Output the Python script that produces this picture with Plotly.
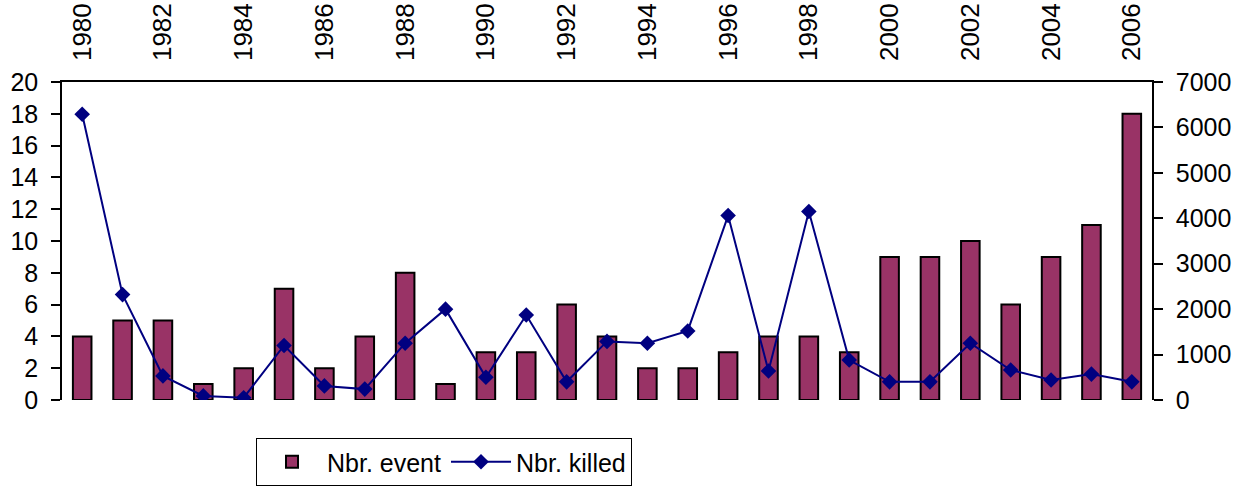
import plotly.graph_objects as go

years = list(range(1980, 2007))
events = [4, 5, 5, 1, 2, 7, 2, 4, 8, 1, 3, 3, 6, 4, 2, 2, 3, 4, 4, 3, 9, 9, 10, 6, 9, 11, 18]
killed = [6290, 2320, 530, 90, 50, 1200, 310, 240, 1250, 2000, 500, 1870, 400, 1290,
          1250, 1520, 4060, 640, 4150, 880, 400, 400, 1250, 660, 440, 570, 400]
label_years = [y for y in years if y % 2 == 0]
left_ticks = list(range(0, 21, 2))
right_ticks = list(range(0, 7001, 1000))

FONT = "Liberation Sans, Arial, sans-serif"
XFS = 26
YFS = 25
W, H = 1234, 487
xr = [years[0] - 0.5, years[-1] + 0.5]
bounds = [y - 0.5 for y in years] + [years[-1] + 0.5]

fig = go.Figure()
fig.add_trace(go.Bar(
    x=years, y=events, name="Nbr. event", xaxis="x", yaxis="y",
    marker=dict(color="#993366", line=dict(color="black", width=2)),
    width=0.46,
))
fig.add_trace(go.Scatter(
    x=years, y=killed, name="Nbr. killed", xaxis="x", yaxis="y2",
    mode="lines+markers",
    line=dict(color="#000080", width=2),
    marker=dict(symbol="diamond", size=12, color="#000080"),
))

common_x = dict(range=xr, showgrid=False, zeroline=False, fixedrange=True, automargin=False)
fig.update_layout(
    width=W, height=H,
    margin=dict(l=62, r=82, t=82, b=87, autoexpand=False),
    paper_bgcolor="white", plot_bgcolor="white",
    font=dict(family=FONT, size=YFS, color="black"),
    showlegend=True,
    legend=dict(
        orientation="h", xref="container", yref="container",
        x=256 / W, y=1 - 438 / H, xanchor="left", yanchor="top",
        bordercolor="black", borderwidth=1, font=dict(size=YFS),
        itemwidth=60, traceorder="normal",
    ),
    xaxis=dict(
        **common_x, side="top", anchor="y",
        tickmode="array", tickvals=label_years, ticktext=[str(y) for y in label_years],
        tickangle=-90, ticks="", showline=True, linecolor="black", linewidth=1.5,
        tickfont=dict(size=XFS), ticklabelstandoff=14,
    ),
    xaxis2=dict(
        **common_x, side="top", anchor="y", overlaying="x",
        tickmode="array", tickvals=bounds, showticklabels=False,
        ticks="outside", ticklen=9, tickwidth=1.5, tickcolor="black", showline=False,
    ),
    xaxis3=dict(
        **common_x, side="top", anchor="y", overlaying="x",
        tickmode="array", tickvals=bounds, showticklabels=False,
        ticks="inside", ticklen=8, tickwidth=1.5, tickcolor="#555", showline=False,
    ),
    xaxis4=dict(
        **common_x, side="bottom", anchor="y", overlaying="x",
        showticklabels=False, ticks="", showline=True, linecolor="#808080", linewidth=2,
    ),
    yaxis=dict(
        range=[0, 20], tickmode="array", tickvals=left_ticks,
        showgrid=False, zeroline=False, showline=True, linecolor="black", linewidth=1.5,
        ticks="outside", ticklen=9, tickwidth=1.5, tickcolor="black",
        tickfont=dict(size=YFS), fixedrange=True, anchor="x", automargin=False,
        ticklabelstandoff=8,
    ),
    yaxis3=dict(
        range=[0, 20], tickmode="array", tickvals=left_ticks, overlaying="y", side="left",
        showgrid=False, zeroline=False, showline=False, showticklabels=False,
        ticks="inside", ticklen=8, tickwidth=1.5, tickcolor="black", anchor="x",
    ),
    yaxis2=dict(
        range=[0, 7000], tickmode="array", tickvals=right_ticks, overlaying="y", side="right",
        showgrid=False, zeroline=False, showline=True, linecolor="black", linewidth=1.5,
        ticks="outside", ticklen=9, tickwidth=1.5, tickcolor="black",
        tickfont=dict(size=YFS), fixedrange=True, anchor="x", automargin=False,
        ticklabelstandoff=8,
    ),
    yaxis4=dict(
        range=[0, 7000], tickmode="array", tickvals=right_ticks, overlaying="y", side="right",
        showgrid=False, zeroline=False, showline=False, showticklabels=False,
        ticks="inside", ticklen=8, tickwidth=1.5, tickcolor="black", anchor="x",
    ),
)

fig.write_html(
    "out.html",
    config={"displayModeBar": False},
    post_script="document.body.style.margin='0';document.body.style.overflow='hidden';",
)
